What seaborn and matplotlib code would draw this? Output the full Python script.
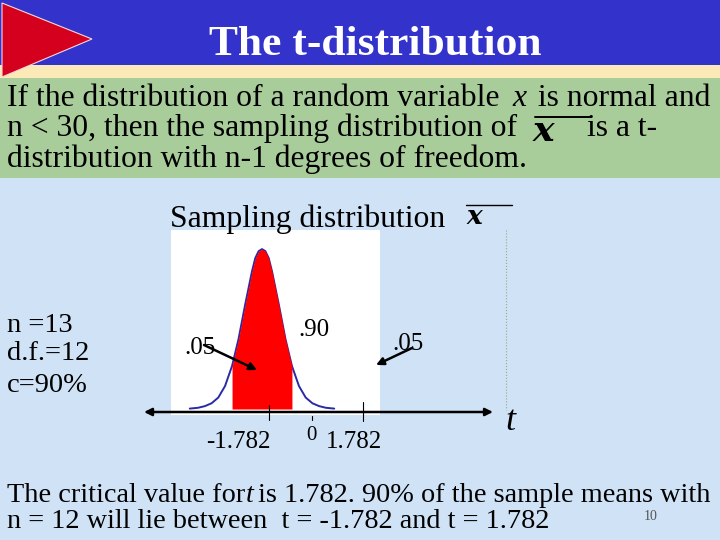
import matplotlib
matplotlib.use("Agg")
import matplotlib.pyplot as plt
from matplotlib.patches import Rectangle, Polygon
import numpy as np
import pandas as pd
import seaborn as sns

t_values = [-4.3, -3.8, -3.4, -3.0, -2.6, -2.2, -1.782, -1.4, -1.0, -0.6, -0.4, -0.2, 0.0,
            0.2, 0.4, 0.6, 1.0, 1.4, 1.782, 2.2, 2.6, 3.0, 3.4, 3.8, 4.3]
density = [0.001, 0.003, 0.007, 0.014, 0.028, 0.056, 0.105, 0.170, 0.255, 0.335, 0.368, 0.385, 0.390,
           0.385, 0.368, 0.335, 0.255, 0.170, 0.105, 0.056, 0.028, 0.014, 0.007, 0.003, 0.001]
crit_low, crit_high = -1.782, 1.782
title = "The t-distribution"
body_lines = ["If the distribution of a random variable ", " is normal and",
              "n < 30, then the sampling distribution of", "is a t-",
              "distribution with n-1 degrees of freedom."]
side_lines = ["n =13", "d.f.=12", "c=90%"]
foot_lines = ["The critical value for", "is 1.782. 90% of the sample means with",
              "n = 12 will lie between  t = -1.782 and t = 1.782"]

sns.set_theme(style="white")
plt.rcParams["font.family"] = ["Liberation Serif", "DejaVu Serif"]
W, H = 720, 540
fig = plt.figure(figsize=(7.2, 5.4), dpi=100, facecolor="#CFE2F6")

def full_axes(z):
    a = fig.add_axes([0, 0, 1, 1], zorder=z)
    a.set_xlim(0, W); a.set_ylim(H, 0); a.axis("off")
    a.patch.set_alpha(0)
    return a

back = full_axes(0)
back.add_patch(Rectangle((0, 0), W, 65, color="#3333CC", lw=0))
back.add_patch(Rectangle((0, 65), W, 13, color="#FBE9B7", lw=0))
back.add_patch(Rectangle((0, 78), W, 100, color="#A9CC9B", lw=0))
back.add_patch(Polygon([(2, 3), (92, 39), (2, 77)], closed=True, fc="#D4001E", ec="#F4D8D8", lw=0.8))
back.plot([506, 506], [230, 410], color="#8FAF80", lw=0.8, ls=":")

# Curve panel: white box, own data scale
L, R, T, B = 171, 380, 230, 415
ax = fig.add_axes([L / W, 1 - B / H, (R - L) / W, (B - T) / H], zorder=1, facecolor="white")
pxt, pxd = 16.8, 410.0
ax.set_xlim((L - 262) / pxt, (R - 262) / pxt)
ax.set_ylim((409 - B) / pxd, (409 - T) / pxd)
df = pd.DataFrame({"t": t_values, "density": density})
sns.lineplot(data=df, x="t", y="density", ax=ax, color="#2A2AA8", lw=1.4, errorbar=None)
mid = df[(df.t >= crit_low) & (df.t <= crit_high)]
ax.fill_between(mid.t, 0, mid.density, color="#FF0000", lw=0, zorder=3)
ax.set_xlabel(""); ax.set_ylabel("")
ax.set_xticks([]); ax.set_yticks([])
for s in ax.spines.values():
    s.set_visible(False)

top = full_axes(2)
def txt(x, y, s, size, **kw):
    kw.setdefault("va", "center"); kw.setdefault("color", "black")
    return top.text(x, y, s, fontsize=size, **kw)

txt(375, 45, title, 31.3, ha="center", color="white", fontweight="bold")
bs = 22.8
txt(7, 98, body_lines[0], bs)
txt(512, 98, "x", bs, style="italic")
txt(530, 98, body_lines[1], bs)
txt(7, 128, body_lines[2], bs)
txt(587, 128, body_lines[3], bs)
txt(7, 159, body_lines[4], bs)
txt(533, 141, "x", 26, va="baseline", style="italic", fontweight="bold", family="DejaVu Serif")
top.plot([535, 591], [117, 117], color="black", lw=1.4)
txt(170, 219, "Sampling distribution", 22.8)
txt(466, 224, "x", 19, va="baseline", style="italic", fontweight="bold", family="DejaVu Serif")
top.plot([466, 512], [205, 205], color="black", lw=1)
for y, s in zip([325, 354, 385], side_lines):
    txt(7, y, s, 20.5)
txt(298, 330, ".90", 18)
txt(184, 348, ".05", 18)
txt(392, 344, ".05", 18)
txt(238, 442, "-1.782", 18, ha="center")
txt(311, 435, "0", 15, ha="center")
txt(354, 442, "1.782", 18, ha="center")
txt(510, 422, "t", 26, ha="center", style="italic")
txt(7, 496, foot_lines[0], 20.3)
txt(246, 496, "t", 20.3, style="italic")
txt(258, 496, foot_lines[1], 20.3)
txt(7, 522, foot_lines[2], 20.3)
txt(651, 516, "10", 10, ha="center", color="#555555")

arrow = dict(arrowstyle="-|>", color="black", lw=1.8, mutation_scale=11, shrinkA=0, shrinkB=0)
top.annotate("", xy=(257, 370), xytext=(204, 345), arrowprops=arrow)
top.annotate("", xy=(376, 365), xytext=(412, 348), arrowprops=arrow)
both = dict(arrowstyle="<|-|>", color="black", lw=1.8, mutation_scale=11, shrinkA=0, shrinkB=0)
top.annotate("", xy=(144, 412), xytext=(493, 412), arrowprops=both)
top.plot([269, 269], [405, 420], color="black", lw=0.8)
top.plot([312, 312], [416, 420], color="black", lw=0.8)
top.plot([363, 363], [402, 421], color="black", lw=0.8)

fig.savefig("out.png", dpi=100, facecolor=fig.get_facecolor())
